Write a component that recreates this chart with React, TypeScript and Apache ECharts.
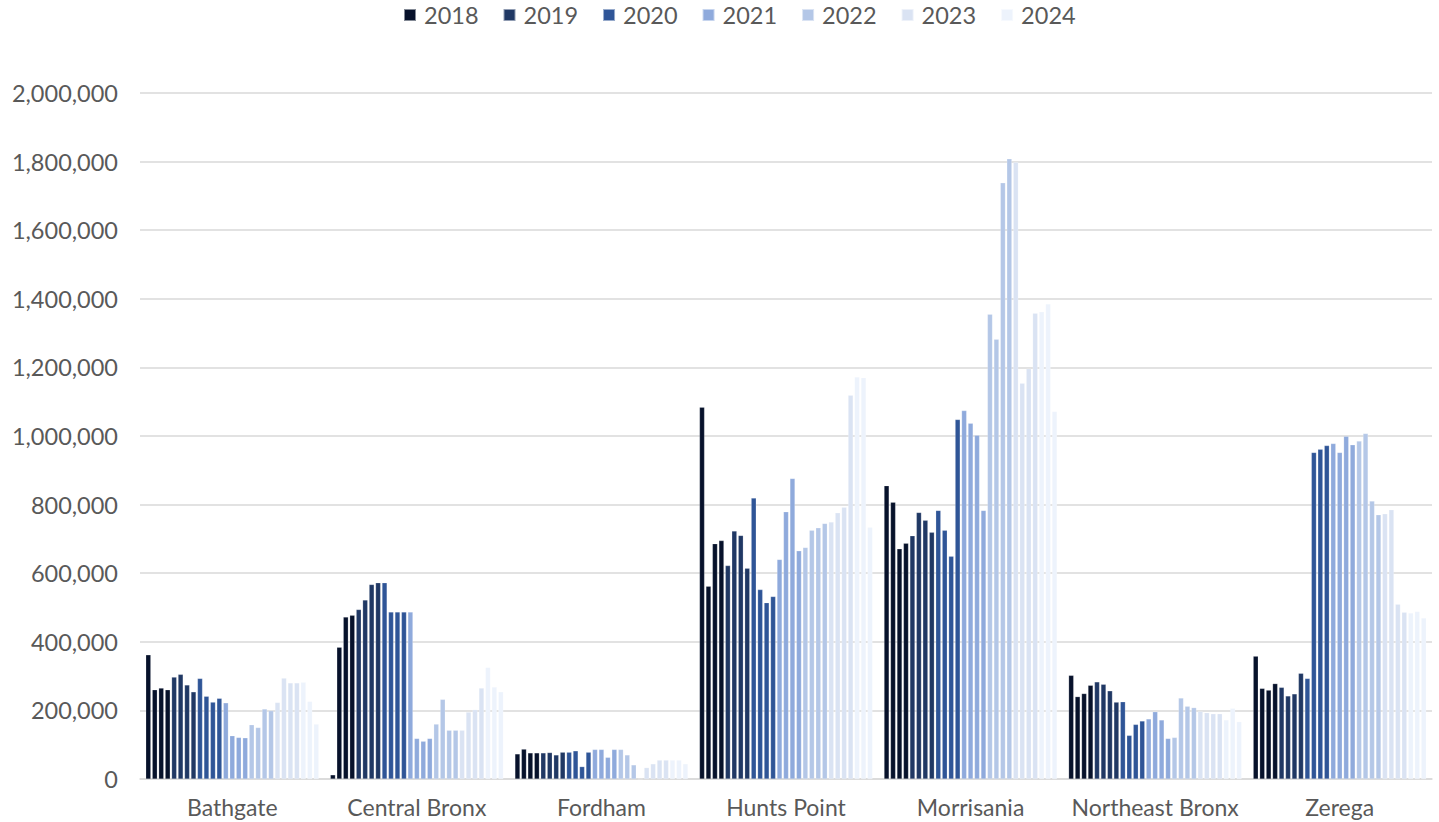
import React, { useEffect, useRef } from "react";
import * as echarts from "echarts";

const categories = ["Bathgate", "Central Bronx", "Fordham", "Hunts Point", "Morrisania", "Northeast Bronx", "Zerega"];
const years = ["2018", "2019", "2020", "2021", "2022", "2023", "2024"];
const yearColors = ["#07122b", "#203864", "#2f5597", "#8faadc", "#b4c7e7", "#dae3f3", "#edf3fc"];
// quarters per year (2024 has 3)
const quartersPerYear = [4, 4, 4, 4, 4, 4, 3];

const bathgate = [362000, 260000, 265000, 260000, 297000, 305000, 274000, 254000, 293000, 241000, 224000, 235000, 222000, 126000, 121000, 120000, 158000, 150000, 204000, 199000, 223000, 294000, 280000, 280000, 282000, 226000, 160000];
const centralBronx = [12000, 384000, 472000, 477000, 494000, 522000, 567000, 572000, 572000, 487000, 487000, 487000, 487000, 118000, 110000, 118000, 160000, 232000, 142000, 142000, 142000, 195000, 202000, 265000, 325000, 268000, 254000];
const fordham = [73000, 87000, 76000, 76000, 76000, 77000, 70000, 78000, 78000, 82000, 36000, 78000, 86000, 86000, 63000, 86000, 86000, 70000, 41000, 0, 33000, 44000, 55000, 55000, 55000, 55000, 44000];
const huntsPoint = [1084000, 562000, 686000, 695000, 622000, 723000, 710000, 614000, 819000, 552000, 514000, 532000, 640000, 779000, 876000, 665000, 675000, 725000, 732000, 745000, 749000, 776000, 792000, 1119000, 1172000, 1170000, 734000];
const morrisania = [855000, 807000, 671000, 687000, 709000, 777000, 754000, 719000, 783000, 725000, 649000, 1048000, 1074000, 1037000, 1002000, 783000, 1355000, 1282000, 1738000, 1808000, 1798000, 1154000, 1196000, 1358000, 1362000, 1385000, 1071000];
const northeastBronx = [302000, 240000, 249000, 273000, 283000, 276000, 257000, 224000, 225000, 127000, 159000, 169000, 175000, 196000, 172000, 118000, 121000, 236000, 212000, 208000, 197000, 193000, 190000, 190000, 172000, 206000, 167000];
const zerega = [358000, 264000, 259000, 278000, 267000, 242000, 248000, 308000, 293000, 952000, 961000, 972000, 978000, 952000, 999000, 974000, 985000, 1007000, 810000, 770000, 773000, 785000, 509000, 486000, 484000, 488000, 469000];

const districtValues = [bathgate, centralBronx, fordham, huntsPoint, morrisania, northeastBronx, zerega];

export default function App() {
  const ref = useRef<HTMLDivElement>(null);
  useEffect(() => {
    if (!ref.current) return;
    const chart = echarts.init(ref.current, undefined, { renderer: "svg" });
    const series: any[] = [];
    let idx = 0;
    years.forEach((y, yi) => {
      for (let q = 0; q < quartersPerYear[yi]; q++) {
        const i = idx;
        series.push({
          type: "bar",
          name: y,
          data: districtValues.map((d) => d[i]),
          itemStyle: { color: yearColors[yi], borderColor: "rgba(255,255,255,0.5)", borderWidth: 0.4 },
          barGap: "30%",
          barCategoryGap: "6.3%",
        });
        idx++;
      }
    });
    const font = "Lato, 'Noto Sans', sans-serif";
    chart.setOption({
      animation: false,
      textStyle: { fontFamily: font },
      legend: {
        data: years,
        top: -2,
        left: 398,
        icon: "rect",
        itemWidth: 12,
        itemHeight: 12,
        itemGap: 24,
        textStyle: { fontSize: 23.5, color: "#595959", fontFamily: font, padding: [0, 0, 0, 3] },
      },
      grid: { left: 140, right: 7, top: 93, bottom: 43, containLabel: false },
      xAxis: {
        type: "category",
        data: categories,
        axisLine: { lineStyle: { color: "#d9d9d9", width: 1.5 } },
        axisTick: { show: false },
        axisLabel: { fontSize: 23, color: "#595959", margin: 16, fontFamily: font, interval: 0 },
      },
      yAxis: {
        type: "value",
        min: 0,
        max: 2000000,
        interval: 200000,
        axisLine: { show: false },
        axisTick: { show: false },
        splitLine: { lineStyle: { color: "#d9d9d9", width: 1.5 } },
        axisLabel: {
          fontSize: 23.5,
          color: "#595959",
          margin: 22,
          fontFamily: font,
          formatter: (v: number) => v.toLocaleString("en-US"),
        },
      },
      series,
    });
    return () => chart.dispose();
  }, []);
  return <div ref={ref} style={{ position: "fixed", left: 0, top: 0, width: 1439, height: 822, background: "#fff" }} />;
}
